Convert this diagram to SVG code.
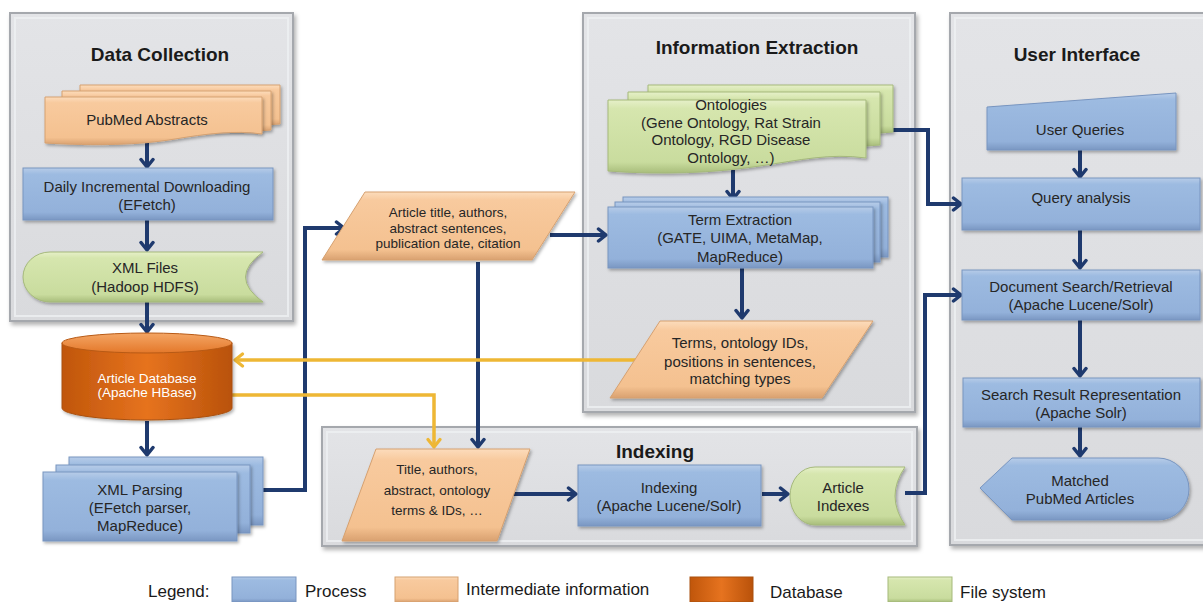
<svg xmlns="http://www.w3.org/2000/svg" width="1203" height="602" viewBox="0 0 1203 602">
<style>
.t{font-family:"Liberation Sans",Arial,sans-serif;font-size:15px;fill:#262626;text-anchor:middle}
.h{font-weight:bold;font-size:19px;fill:#1a1a1a}
.s{font-size:13.5px}
.w{fill:#ffffff}
.lg{font-size:17px;text-anchor:start;fill:#1a1a1a}
.c{fill:none;stroke:#1f3a6e;stroke-width:4;marker-end:url(#an)}
.g{fill:none;stroke:#eeb735;stroke-width:3.5;marker-end:url(#ag)}
.panel{fill:url(#gP);stroke:#a5a8ad;stroke-width:2;filter:url(#sh)}
.pin{fill:none;stroke:#eef0f2;stroke-width:2;opacity:.8}
.blue{fill:url(#gB);stroke:#7895c0;stroke-width:1;filter:url(#sh2)}
.org{fill:url(#gO);stroke:#d6a170;stroke-width:1;filter:url(#sh2)}
.grn{fill:url(#gG);stroke:#a5b97b;stroke-width:1;filter:url(#sh2)}
</style>
<defs>
<linearGradient id="gP" x1="0" y1="0" x2="0" y2="1"><stop offset="0" stop-color="#e3e4e7"/><stop offset="1" stop-color="#d9dadd"/></linearGradient>
<linearGradient id="gB" x1="0" y1="0" x2="0" y2="1"><stop offset="0" stop-color="#b7cce8"/><stop offset=".12" stop-color="#9dbbe1"/><stop offset=".85" stop-color="#93b1da"/><stop offset="1" stop-color="#7a97c2"/></linearGradient>
<linearGradient id="gO" x1="0" y1="0" x2="0" y2="1"><stop offset="0" stop-color="#fcdcbc"/><stop offset=".12" stop-color="#f8ca9e"/><stop offset=".85" stop-color="#f4c190"/><stop offset="1" stop-color="#d9a170"/></linearGradient>
<linearGradient id="gG" x1="0" y1="0" x2="0" y2="1"><stop offset="0" stop-color="#e6f0c9"/><stop offset=".12" stop-color="#d6e6ae"/><stop offset=".85" stop-color="#c9dc9e"/><stop offset="1" stop-color="#a8bd7b"/></linearGradient>
<linearGradient id="gD" x1="0" y1="0" x2="1" y2="0"><stop offset="0" stop-color="#c0560b"/><stop offset=".5" stop-color="#e6731f"/><stop offset="1" stop-color="#b9520a"/></linearGradient>
<linearGradient id="gDt" x1="0" y1="0" x2="0" y2="1"><stop offset="0" stop-color="#f4a665"/><stop offset="1" stop-color="#e4782a"/></linearGradient>
<filter id="sh" x="-5%" y="-5%" width="115%" height="115%"><feDropShadow dx="2" dy="3" stdDeviation="2" flood-color="#000" flood-opacity=".3"/></filter>
<filter id="sh2" x="-5%" y="-10%" width="115%" height="130%"><feDropShadow dx="1.5" dy="2" stdDeviation="1.5" flood-color="#000" flood-opacity=".3"/></filter>
<marker id="an" viewBox="0 0 12 16" refX="10" refY="8" markerWidth="12" markerHeight="16" orient="auto" markerUnits="userSpaceOnUse"><path d="M2.5,2 L10,8 L2.5,14" fill="none" stroke="#1f3a6e" stroke-width="3.5" stroke-linecap="round" stroke-linejoin="round"/></marker>
<marker id="ag" viewBox="0 0 12 16" refX="10" refY="8" markerWidth="12" markerHeight="16" orient="auto" markerUnits="userSpaceOnUse"><path d="M2.5,2 L10,8 L2.5,14" fill="none" stroke="#eeb735" stroke-width="3.2" stroke-linecap="round" stroke-linejoin="round"/></marker>
</defs>

<rect x="0" y="0" width="1203" height="602" fill="#ffffff"/>

<g id="panels">
<g id="panel-data-collection"><rect class="panel" x="10" y="13" width="283" height="308"/><rect class="pin" x="15" y="18" width="273" height="298"/><text class="t h" x="160" y="61">Data Collection</text></g>
<g id="panel-information-extraction"><rect class="panel" x="583" y="13" width="332" height="399"/><rect class="pin" x="588" y="18" width="322" height="389"/><text class="t h" x="757" y="54">Information Extraction</text></g>
<g id="panel-user-interface"><rect class="panel" x="950" y="13" width="260" height="532"/><rect class="pin" x="955" y="18" width="260" height="522"/><text class="t h" x="1077" y="61">User Interface</text></g>
<g id="panel-indexing"><rect class="panel" x="322" y="427" width="595" height="119"/><rect class="pin" x="327" y="432" width="585" height="109"/><text class="t h" x="655" y="458">Indexing</text></g>
</g>

<g id="connectors">
<path class="c" d="M147,143 V167"/>
<path class="c" d="M147,220 V250"/>
<path class="c" d="M147,302 V332"/>
<path class="c" d="M147,421 V455"/>
<path class="c" d="M263,490 H305 V228 H344"/>
<path class="c" d="M550,235 H606"/>
<path class="c" d="M478,262 V447"/>
<path class="c" d="M733,170 V199"/>
<path class="c" d="M742,268 V318"/>
<path class="c" d="M893,130 H928 V204 H961"/>
<path class="c" d="M513,494 H576"/>
<path class="c" d="M762,494 H788"/>
<path class="c" d="M905,493 H925 V295 H961"/>
<path class="c" d="M1080,150 V177"/>
<path class="c" d="M1080,230 V268"/>
<path class="c" d="M1080,320 V376"/>
<path class="c" d="M1080,427 V456"/>
<path class="g" d="M637,360 H235"/>
<path class="g" d="M232,395 H434 V447"/>
</g>

<g id="pubmed-abstracts">
<path class="org" d="M80,85 H280 V124 L266,125 L80,125 Z"/>
<path class="org" d="M62,91 H271 V130 L258,131 L62,131 Z"/>
<path class="org" d="M45,97 H262 V134 C235,130 205,134 175,139 C140,145 95,146 45,143 Z"/>
<text class="t" x="147" y="125">PubMed Abstracts</text>
</g>

<g id="daily-downloading">
<rect class="blue" x="23" y="168" width="250" height="52"/>
<text class="t" x="147" y="192">Daily Incremental Downloading</text>
<text class="t" x="147" y="210">(EFetch)</text>
</g>

<g id="xml-files">
<path class="grn" d="M50,252 H263 Q228,277 263,302 H50 A27,25 0 0 1 50,252 Z"/>
<text class="t" x="145" y="273">XML Files</text>
<text class="t" x="145" y="292">(Hadoop HDFS)</text>
</g>

<g id="article-database">
<path d="M62,343 V408 A85,12 0 0 0 232,408 V343 Z" fill="url(#gD)" stroke="#a9500f" stroke-width="1" filter="url(#sh2)"/>
<ellipse cx="147" cy="343" rx="85" ry="10" fill="url(#gDt)" stroke="#b85a15" stroke-width="1"/>
<text class="t s w" x="147" y="383">Article Database</text>
<text class="t s w" x="147" y="397">(Apache HBase)</text>
</g>

<g id="xml-parsing">
<rect class="blue" x="69" y="457" width="194" height="68"/>
<rect class="blue" x="56" y="465" width="194" height="68"/>
<rect class="blue" x="43" y="472" width="194" height="69"/>
<text class="t" x="140" y="495">XML Parsing</text>
<text class="t" x="140" y="513">(EFetch parser,</text>
<text class="t" x="140" y="531">MapReduce)</text>
</g>

<g id="article-title">
<path class="org" d="M365,192 H575 L532,260 H322 Z"/>
<text class="t s" x="448" y="217">Article title, authors,</text>
<text class="t s" x="448" y="233">abstract sentences,</text>
<text class="t s" x="448" y="248">publication date, citation</text>
</g>

<g id="ontologies">
<path class="grn" d="M648,85 H893 V132 L880,133 L648,133 Z"/>
<path class="grn" d="M628,92 H880 V145 L866,146 L628,146 Z"/>
<path class="grn" d="M608,100 H866 V158 C830,153 800,160 760,166 C715,173 660,175 608,171 Z"/>
<text class="t" x="731" y="110">Ontologies</text>
<text class="t" x="731" y="128">(Gene Ontology, Rat Strain</text>
<text class="t" x="731" y="145">Ontology, RGD Disease</text>
<text class="t" x="731" y="163">Ontology, …)</text>
</g>

<g id="term-extraction">
<rect class="blue" x="623" y="197" width="265" height="60"/>
<rect class="blue" x="615" y="202" width="265" height="60"/>
<rect class="blue" x="608" y="207" width="265" height="61"/>
<text class="t" x="740" y="225">Term Extraction</text>
<text class="t" x="740" y="243">(GATE, UIMA, MetaMap,</text>
<text class="t" x="740" y="262">MapReduce)</text>
</g>

<g id="terms">
<path class="org" d="M660,321 H873 L822,398 H610 Z"/>
<text class="t" x="740" y="348">Terms, ontology IDs,</text>
<text class="t" x="740" y="367">positions in sentences,</text>
<text class="t" x="740" y="384">matching types</text>
</g>

<g id="title-authors">
<path class="org" d="M376,449 H530 L497,541 H342 Z"/>
<text class="t s" x="437" y="474">Title, authors,</text>
<text class="t s" x="437" y="495">abstract, ontology</text>
<text class="t s" x="437" y="515">terms &amp; IDs, …</text>
</g>

<g id="indexing">
<rect class="blue" x="578" y="465" width="183" height="61"/>
<text class="t" x="669" y="493">Indexing</text>
<text class="t" x="669" y="511">(Apache Lucene/Solr)</text>
</g>

<g id="article-indexes">
<path class="grn" d="M815,467 H905 Q885,496 905,525 H815 A25,29 0 0 1 815,467 Z"/>
<text class="t" x="843" y="493">Article</text>
<text class="t" x="843" y="511">Indexes</text>
</g>

<g id="user-queries">
<path class="blue" d="M987,107 L1176,93 V150 H987 Z"/>
<text class="t" x="1080" y="135">User Queries</text>
</g>

<g id="query-analysis">
<rect class="blue" x="962" y="178" width="238" height="52"/>
<text class="t" x="1081" y="203">Query analysis</text>
</g>

<g id="document-search">
<rect class="blue" x="962" y="270" width="238" height="50"/>
<text class="t" x="1081" y="292">Document Search/Retrieval</text>
<text class="t" x="1081" y="310">(Apache Lucene/Solr)</text>
</g>

<g id="search-result">
<rect class="blue" x="963" y="378" width="237" height="49"/>
<text class="t" x="1081" y="400">Search Result Representation</text>
<text class="t" x="1081" y="418">(Apache Solr)</text>
</g>

<g id="matched-articles">
<path class="blue" d="M980,488 L1012,458 H1158 A31,31 0 0 1 1158,520 H1012 Z"/>
<text class="t" x="1080" y="486">Matched</text>
<text class="t" x="1080" y="504">PubMed Articles</text>
</g>

<g id="legend">
<text class="t lg" x="148" y="597">Legend:</text>
<rect x="232" y="577" width="64" height="25" fill="url(#gB)" stroke="#7895c0"/>
<text class="t lg" x="305" y="597">Process</text>
<rect x="395" y="577" width="63" height="25" fill="url(#gO)" stroke="#d6a170"/>
<text class="t lg" x="466" y="595">Intermediate information</text>
<rect x="690" y="577" width="63" height="25" fill="url(#gD)" stroke="#a9500f"/>
<text class="t lg" x="770" y="598">Database</text>
<rect x="888" y="577" width="64" height="25" fill="url(#gG)" stroke="#a5b97b"/>
<text class="t lg" x="960" y="598">File system</text>
</g>
</svg>
